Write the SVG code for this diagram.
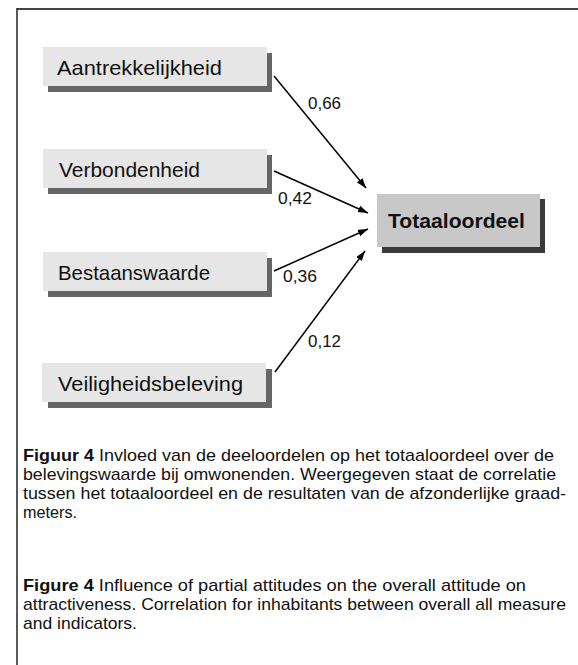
<svg xmlns="http://www.w3.org/2000/svg" width="578" height="665" viewBox="0 0 578 665">
<style>
.box{fill:#e6e6e6}
.sh{fill:#666666}
.tbox{fill:#c8c8c8}
.tsh{fill:#3a3a3a}
.lbl{font-family:"Liberation Sans",Arial,sans-serif;font-size:21px;fill:#111}
.tlbl{font-family:"Liberation Sans",Arial,sans-serif;font-size:21px;font-weight:bold;fill:#111}
.num{font-family:"Liberation Sans",Arial,sans-serif;font-size:17px;fill:#111}
.cap{font-family:"Liberation Sans",Arial,sans-serif;font-size:17px;fill:#111}
.b{font-weight:bold}
.edge{stroke:#000;stroke-width:1.5;fill:none;marker-end:url(#ah)}
</style>
<defs>
<marker id="ah" markerUnits="userSpaceOnUse" markerWidth="11" markerHeight="8" refX="10" refY="3.5" orient="auto">
<path d="M0,0 L10,3.5 L0,7 z" fill="#000"/>
</marker>
</defs>
<rect width="578" height="665" fill="#fff"/>
<g id="frame">
<line x1="17" y1="9" x2="578" y2="9" stroke="#444" stroke-width="2"/>
<line x1="17" y1="8" x2="17" y2="665" stroke="#222" stroke-width="1.5"/>
</g>
<g id="node-aantrekkelijkheid">
<rect class="sh" x="48" y="53" width="224" height="39"/>
<rect class="box" x="43" y="47" width="224" height="39"/>
<text class="lbl" x="57" y="75" textLength="165" lengthAdjust="spacingAndGlyphs">Aantrekkelijkheid</text>
</g>
<g id="node-verbondenheid">
<rect class="sh" x="48" y="155" width="224" height="39"/>
<rect class="box" x="43" y="149" width="224" height="39"/>
<text class="lbl" x="59" y="177" textLength="141" lengthAdjust="spacingAndGlyphs">Verbondenheid</text>
</g>
<g id="node-bestaanswaarde">
<rect class="sh" x="48" y="258" width="224" height="39"/>
<rect class="box" x="43" y="252" width="224" height="39"/>
<text class="lbl" x="58" y="280" textLength="152" lengthAdjust="spacingAndGlyphs">Bestaanswaarde</text>
</g>
<g id="node-veiligheidsbeleving">
<rect class="sh" x="48" y="369" width="224" height="39"/>
<rect class="box" x="42" y="363" width="224" height="39"/>
<text class="lbl" x="58" y="391" textLength="185" lengthAdjust="spacingAndGlyphs">Veiligheidsbeleving</text>
</g>
<g id="node-totaaloordeel">
<rect class="tsh" x="382" y="199" width="163" height="54"/>
<rect class="tbox" x="377" y="194" width="163" height="53"/>
<text class="tlbl" x="388" y="228" textLength="137" lengthAdjust="spacingAndGlyphs">Totaaloordeel</text>
</g>
<g id="connectors">
<line class="edge" x1="274" y1="76" x2="366" y2="188"/>
<line class="edge" x1="274" y1="171" x2="368" y2="213"/>
<line class="edge" x1="274" y1="271" x2="368" y2="229"/>
<line class="edge" x1="275" y1="372" x2="365" y2="251"/>
<text class="num" x="308" y="109" textLength="33" lengthAdjust="spacingAndGlyphs">0,66</text>
<text class="num" x="278" y="204" textLength="34" lengthAdjust="spacingAndGlyphs">0,42</text>
<text class="num" x="283" y="282" textLength="34" lengthAdjust="spacingAndGlyphs">0,36</text>
<text class="num" x="308" y="347" textLength="33" lengthAdjust="spacingAndGlyphs">0,12</text>
</g>
<g id="caption">
<text class="cap" x="23" y="461" textLength="531" lengthAdjust="spacingAndGlyphs"><tspan class="b">Figuur 4</tspan> Invloed van de deeloordelen op het totaaloordeel over de</text>
<text class="cap" x="23" y="480" textLength="533" lengthAdjust="spacingAndGlyphs">belevingswaarde bij omwonenden. Weergegeven staat de correlatie</text>
<text class="cap" x="23" y="499" textLength="543" lengthAdjust="spacingAndGlyphs">tussen het totaaloordeel en de resultaten van de afzonderlijke graad-</text>
<text class="cap" x="23" y="518" textLength="54" lengthAdjust="spacingAndGlyphs">meters.</text>
<text class="cap" x="23" y="591" textLength="503" lengthAdjust="spacingAndGlyphs"><tspan class="b">Figure 4</tspan> Influence of partial attitudes on the overall attitude on</text>
<text class="cap" x="23" y="610" textLength="543" lengthAdjust="spacingAndGlyphs">attractiveness. Correlation for inhabitants between overall all measure</text>
<text class="cap" x="23" y="629" textLength="114" lengthAdjust="spacingAndGlyphs">and indicators.</text>
</g>
</svg>
